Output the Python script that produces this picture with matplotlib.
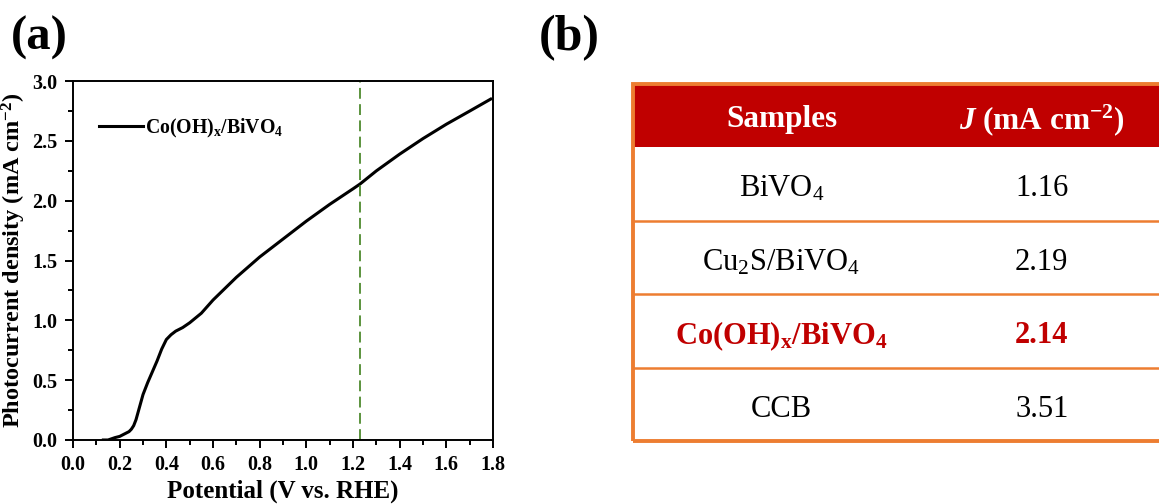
import matplotlib
matplotlib.use("Agg")
import matplotlib.pyplot as plt
from matplotlib.patches import Rectangle
from matplotlib.ticker import MultipleLocator

plt.rcParams["font.family"] = ["Liberation Serif", "DejaVu Serif"]
plt.rcParams["mathtext.fontset"] = "custom"
plt.rcParams["mathtext.rm"] = "Liberation Serif"
plt.rcParams["mathtext.bf"] = "Liberation Serif:bold"
plt.rcParams["mathtext.it"] = "Liberation Serif:bold:italic"

# LSV curve of Co(OH)x/BiVO4
potential = [0.13, 0.15, 0.18, 0.20, 0.22, 0.24, 0.25, 0.26, 0.27, 0.28, 0.29,
             0.30, 0.32, 0.34, 0.36, 0.38, 0.40, 0.42, 0.44, 0.47, 0.50,
             0.55, 0.60, 0.70, 0.80, 0.90, 1.00, 1.10, 1.20, 1.23, 1.30,
             1.40, 1.50, 1.60, 1.70, 1.79]
current = [0.00, 0.00, 0.02, 0.03, 0.05, 0.07, 0.09, 0.12, 0.17, 0.24, 0.31,
           0.38, 0.48, 0.57, 0.66, 0.76, 0.84, 0.88, 0.91, 0.94, 0.98,
           1.06, 1.17, 1.36, 1.53, 1.68, 1.83, 1.97, 2.10, 2.14, 2.25,
           2.39, 2.52, 2.64, 2.75, 2.85]
rhe_mark = 1.23

# table contents
samples = [r"BiVO$_4$", r"Cu$_2$S/BiVO$_4$", r"$\mathbf{Co(OH)_x/BiVO_4}$", "CCB"]
j_values = ["1.16", "2.19", "2.14", "3.51"]
highlight = 2
headers = ["Samples", r"$J$ (mA cm$^{\mathbf{-2}}$)"]

red = "#C00000"
orange = "#ED7D31"

fig = plt.figure(figsize=(11.59, 5.04), dpi=100)

# (a) curve
ax = fig.add_axes([0.063, 0.127, 0.3624, 0.712])
ax.plot(potential, current, color="black", lw=2.2, label=r"$\mathbf{Co(OH)_x/BiVO_4}$")
ax.axvline(rhe_mark, color="#4E8A2E", lw=1.3, ls=(0, (6, 3)))
ax.set_xlim(0, 1.8)
ax.set_ylim(0, 3.0)
ax.xaxis.set_major_locator(MultipleLocator(0.2))
ax.xaxis.set_minor_locator(MultipleLocator(0.1))
ax.yaxis.set_major_locator(MultipleLocator(0.5))
ax.yaxis.set_minor_locator(MultipleLocator(0.25))
ax.tick_params(which="major", direction="out", length=6, width=1.4, labelsize=14.5, pad=5)
ax.tick_params(which="minor", direction="out", length=3.5, width=1.4)
for lab in ax.get_xticklabels() + ax.get_yticklabels():
    lab.set_fontweight("bold")
for s in ax.spines.values():
    s.set_linewidth(1.4)
ax.set_xlabel("Potential (V vs. RHE)", fontsize=18, fontweight="bold", labelpad=3)
ax.set_ylabel(r"Photocurrent density (mA cm$^{\mathbf{-2}}$)", fontsize=17.5,
              fontweight="bold", labelpad=3)
ax.legend(loc="upper left", bbox_to_anchor=(0.02, 0.95), frameon=False,
          fontsize=14.2, handlelength=2.2, handletextpad=0.1)

# (b) table
tab = fig.add_axes([0.546, 0.125, 0.463, 0.708])
tab.set_xlim(0, 1)
tab.set_ylim(0, 1)
tab.axis("off")
header_h = 63 / 357
row_h = (1 - header_h) / len(samples)
col_x = [0.277, 0.762]
px = 1 / 357  # one pixel in table units (vertical)

tab.add_patch(Rectangle((0, 1 - header_h), 1, header_h, facecolor=red,
                        edgecolor="none", clip_on=False))
for i, h in enumerate(headers):
    tab.text(col_x[i], 1 - header_h / 2 - 4 * px, h, color="white", fontsize=22.5,
             fontweight="bold", ha="center", va="center")

for i, (name, val) in enumerate(zip(samples, j_values)):
    y_top = 1 - header_h - i * row_h
    yc = y_top - row_h / 2 - 5 * px
    if i > 0:
        tab.plot([0, 1], [y_top, y_top], color=orange, lw=1.8, clip_on=False)
    is_hl = i == highlight
    color = red if is_hl else "black"
    weight = "bold" if is_hl else "normal"
    tab.text(col_x[0], yc, name, color=color, fontsize=22, fontweight=weight,
             ha="center", va="center")
    tab.text(col_x[1], yc, val, color=color, fontsize=22, fontweight=weight,
             ha="center", va="center")

tab.add_patch(Rectangle((0, 0), 1, 1, facecolor="none", edgecolor=orange, lw=2.8,
                        clip_on=False))

fig.text(0.009, 0.925, "(a)", fontsize=35, fontweight="bold", va="center")
fig.text(0.465, 0.925, "(b)", fontsize=36, fontweight="bold", va="center")

fig.savefig("out.png", dpi=100)
